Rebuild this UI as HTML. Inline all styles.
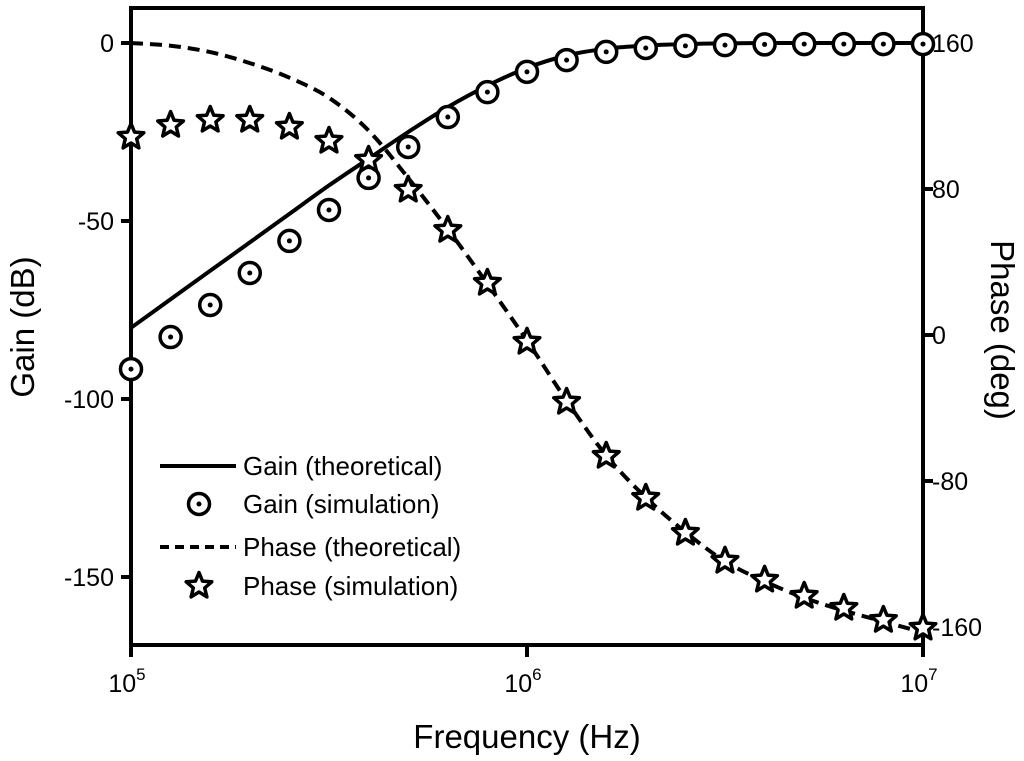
<!DOCTYPE html>
<html><head><meta charset="utf-8"><style>
body{margin:0;background:#fff}
svg{display:block;font-family:"Liberation Sans",Arial,sans-serif}
</style></head><body>
<svg id="chart" width="1024" height="761" viewBox="0 0 1024 761"></svg>
<script>
const freqs = [1e5,1.259e5,1.585e5,1.995e5,2.512e5,3.162e5,3.981e5,5.012e5,6.31e5,7.943e5,1e6,1.259e6,1.585e6,1.995e6,2.512e6,3.162e6,3.981e6,5.012e6,6.31e6,7.943e6,1e7];
const gainTheory = [-80,-72,-64,-56,-48,-40,-32.5,-25,-18,-12,-7,-3.5,-1.6,-0.7,-0.3,-0.1,0,0,0,0,0];
const gainSim = [-91.6,-82.6,-73.6,-64.6,-55.6,-46.9,-37.9,-29.2,-20.8,-13.8,-8.1,-4.8,-2.5,-1.4,-0.8,-0.6,-0.4,-0.3,-0.3,-0.3,-0.3];
const phaseTheory = [160,158.5,155,149,141,130,112,86,58,28,-3,-36,-66,-89,-108,-124,-135,-144,-151,-157,-163];
const phaseSim = [108.5,115,117.8,117.8,114,106.3,95.9,79.5,57.5,28.5,-3.8,-36.7,-66.3,-89.3,-108.5,-123.8,-134.2,-143,-149.6,-156.2,-160.5];
const gainTicks = [0,-50,-100,-150];
const phaseTicks = [160,80,0,-80,-160];
const xTicks = [5,6,7];

const L=131,R=923,T=8,B=645;
const NS='http://www.w3.org/2000/svg';
const svg=document.getElementById('chart');
const X=f=>L+(Math.log10(f)-5)/2*(R-L);
const YG=g=>43+(-g)*3.56;
const YP=p=>43+(160-p)*1.825;
function mk(tag,attrs,parent){const e=document.createElementNS(NS,tag);for(const k in attrs)e.setAttribute(k,attrs[k]);(parent||svg).appendChild(e);return e;}
function smooth(pts){let d='M'+pts[0][0]+','+pts[0][1];
  for(let i=0;i<pts.length-1;i++){const p0=pts[Math.max(0,i-1)],p1=pts[i],p2=pts[i+1],p3=pts[Math.min(pts.length-1,i+2)];
    const c1=[p1[0]+(p2[0]-p0[0])/6,p1[1]+(p2[1]-p0[1])/6],c2=[p2[0]-(p3[0]-p1[0])/6,p2[1]-(p3[1]-p1[1])/6];
    d+=' C'+c1[0].toFixed(1)+','+c1[1].toFixed(1)+' '+c2[0].toFixed(1)+','+c2[1].toFixed(1)+' '+p2[0].toFixed(1)+','+p2[1].toFixed(1);}
  return d;}

const frame=mk('rect',{x:L,y:T,width:R-L,height:B-T,fill:'none',stroke:'#000','stroke-width':4});



gainTicks.forEach(v=>{
  const y=YG(v);
  const t=mk('line',{x1:L-10,x2:L,y1:y,y2:y,stroke:'#000','stroke-width':4});
  
  
  const tx=mk('text',{x:114,y:y+9,'text-anchor':'end','font-size':25});
  tx.textContent=v;
  
  
});
phaseTicks.forEach(v=>{
  const y=YP(v);
  const t=mk('line',{x1:R,x2:R+10,y1:y,y2:y,stroke:'#000','stroke-width':4});
  
  
  const tx=mk('text',{x:932,y:y+9,'font-size':25});
  tx.textContent=v;
  
  
});
xTicks.forEach(e=>{
  const x=X(Math.pow(10,e));
  const t=mk('line',{x1:x,x2:x,y1:B,y2:B+12,stroke:'#000','stroke-width':4});
  
  
  const tx=mk('text',{x:x-4,y:692,'text-anchor':'middle','font-size':25});
  tx.textContent='10';
  const s=mk('tspan',{dy:-12,'font-size':17},tx);s.textContent=e;
  
  
});

const xt=mk('text',{x:527,y:748,'text-anchor':'middle','font-size':33});xt.textContent='Frequency (Hz)';


const yt=mk('text',{x:0,y:0,'text-anchor':'middle','font-size':33,transform:'translate(34,327) rotate(-90)'});yt.textContent='Gain (dB)';


const pt=mk('text',{x:0,y:0,'text-anchor':'middle','font-size':33,transform:'translate(991,330) rotate(90)'});pt.textContent='Phase (deg)';



const defs=mk('defs',{});const cp=mk('clipPath',{id:'clip'},defs);mk('rect',{x:L,y:T,width:R-L,height:B-T},cp);

const gl=mk('path',{d:smooth(freqs.map((f,i)=>[X(f),YG(gainTheory[i])])),fill:'none',stroke:'#000','stroke-width':4,'clip-path':'url(#clip)'});


const pl=mk('path',{d:smooth(freqs.map((f,i)=>[X(f),YP(phaseTheory[i])])),fill:'none',stroke:'#000','stroke-width':4,'stroke-dasharray':'12 7','clip-path':'url(#clip)'});



function circle(x,y){const g=mk('g',{});mk('circle',{cx:x,cy:y,r:10.5,fill:'#fff',stroke:'#000','stroke-width':3.5},g);mk('circle',{cx:x,cy:y,r:2.5,fill:'#000'},g);return g;}
function star(x,y){let p=[];for(let k=0;k<10;k++){const r=k%2?6:13.5;const a=-Math.PI/2+k*Math.PI/5;p.push((x+r*Math.cos(a)).toFixed(1)+','+(y+r*Math.sin(a)).toFixed(1));}
  return mk('polygon',{points:p.join(' '),fill:'#fff',stroke:'#000','stroke-width':3.5,'stroke-linejoin':'round'});}
freqs.forEach((f,i)=>{
  const c=circle(X(f),YG(gainSim[i]));
  
  
});
freqs.forEach((f,i)=>{
  const s=star(X(f),YP(phaseSim[i]));
  
  
});

const lg=mk('g',{});


const ly=[466,504,547,586];
const labels=['Gain (theoretical)','Gain (simulation)','Phase (theoretical)','Phase (simulation)'];
mk('line',{x1:160,x2:236,y1:ly[0],y2:ly[0],stroke:'#000','stroke-width':4},lg);
lg.appendChild(circle(199,ly[1]));
mk('line',{x1:160,x2:236,y1:ly[2],y2:ly[2],stroke:'#000','stroke-width':4,'stroke-dasharray':'9 6'},lg);
lg.appendChild(star(199,ly[3]));
labels.forEach((t,i)=>{
  const tx=mk('text',{x:243,y:ly[i]+9,'font-size':26},lg);tx.textContent=t;
  
  
});
</script>
</body></html>
